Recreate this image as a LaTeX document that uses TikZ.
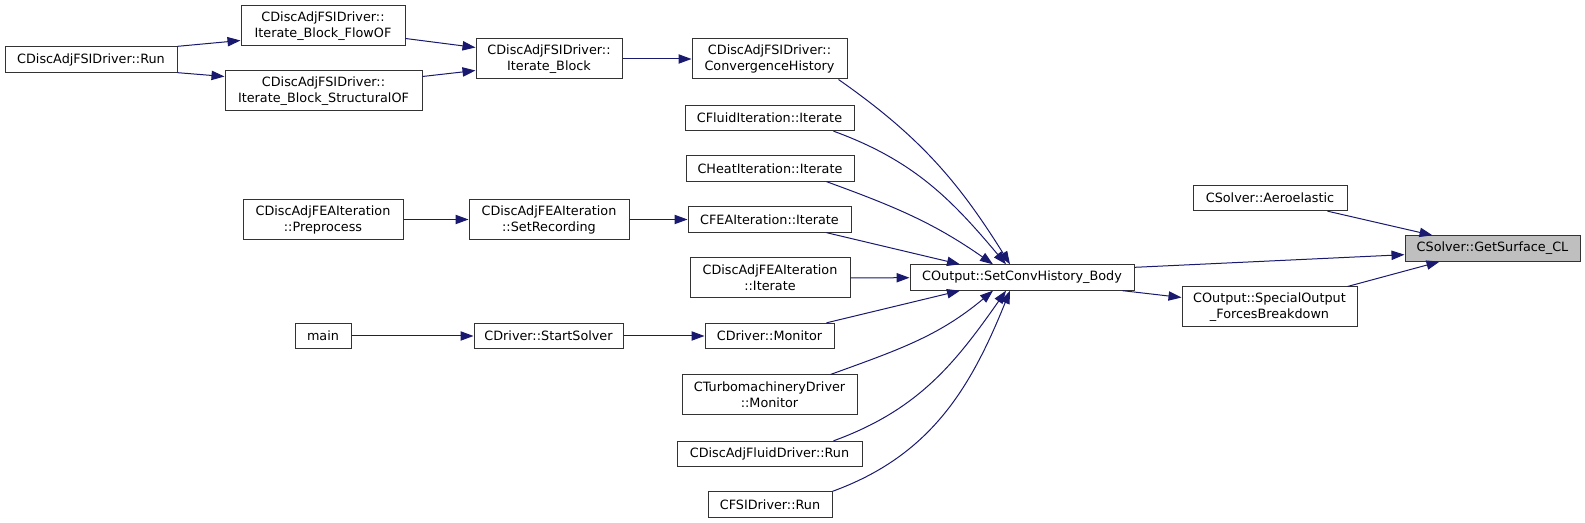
\documentclass[tikz,border=0pt]{standalone}
\usepackage{fontspec}
\setmainfont{DejaVu Sans}
\usetikzlibrary{arrows.meta}
\definecolor{edgeblue}{HTML}{191970}
\definecolor{curgray}{HTML}{BFBFBF}

\begin{document}
\begin{tikzpicture}[x=0.75pt,y=-0.75pt,>={Triangle[length=9.75pt,width=7pt]},
 fn/.style={draw=black!80,line width=0.75pt,fill=white,inner sep=0pt,align=center,
  font=\fontsize{9.6}{12}\selectfont,minimum height=19pt},
 fn2/.style={fn,minimum height=30pt},
 every edge/.style={draw=edgeblue,line width=0.75pt,->}]
\useasboundingbox (0,0) rectangle (1585,523);
\node[fn,minimum width=129pt] (run) at (91,59.5) {CDiscAdjFSIDriver::Run};
\node[fn2,minimum width=123pt] (flowof) at (323,26) {CDiscAdjFSIDriver::\\Iterate\_Block\_FlowOF};
\node[fn2,minimum width=147.75pt] (structof) at (323.5,91) {CDiscAdjFSIDriver::\\Iterate\_Block\_StructuralOF};
\node[fn2,minimum width=109.5pt] (block) at (549,59) {CDiscAdjFSIDriver::\\Iterate\_Block};
\node[fn2,minimum width=116.25pt] (convhist) at (769.5,59) {CDiscAdjFSIDriver::\\ConvergenceHistory};
\node[fn,minimum width=126.75pt] (fluidit) at (769.5,118) {CFluidIteration::Iterate};
\node[fn,minimum width=126pt] (heatit) at (770,168.5) {CHeatIteration::Iterate};
\node[fn,minimum width=122.25pt] (feait) at (769.5,219.5) {CFEAIteration::Iterate};
\node[fn2,minimum width=120pt] (prep) at (323,219.5) {CDiscAdjFEAIteration\\::Preprocess};
\node[fn2,minimum width=120pt] (setrec) at (549,219.5) {CDiscAdjFEAIteration\\::SetRecording};
\node[fn2,minimum width=120pt] (adjfeait) at (770,278) {CDiscAdjFEAIteration\\::Iterate};
\node[fn,minimum width=168pt] (body) at (1022,277.5) {COutput::SetConvHistory\_Body};
\node[fn,minimum width=42pt] (main) at (323,336) {main};
\node[fn,minimum width=111.75pt] (startsolver) at (548.5,336) {CDriver::StartSolver};
\node[fn,minimum width=96.75pt] (monitor) at (769.5,336) {CDriver::Monitor};
\node[fn2,minimum width=131.25pt] (turbomon) at (769.5,395) {CTurbomachineryDriver\\::Monitor};
\node[fn,minimum width=138.75pt] (adjfluidrun) at (769.5,454) {CDiscAdjFluidDriver::Run};
\node[fn,minimum width=93pt] (fsirun) at (770,504.5) {CFSIDriver::Run};
\node[fn,minimum width=115.5pt] (aero) at (1270,198) {CSolver::Aeroelastic};
\node[fn,minimum width=131.25pt,fill=curgray] (getcl) at (1492.5,248.5) {CSolver::GetSurface\_CL};
\node[fn2,minimum width=131.25pt] (special) at (1269.5,307) {COutput::SpecialOutput\\\_ForcesBreakdown};
\path (run.north east) edge ([yshift=4.5pt]flowof.south west)
(run.south east) edge ([yshift=-4.5pt]structof.north west)
([yshift=6pt]flowof.south east) edge ([yshift=-6.75pt]block.north west)
([yshift=-4.5pt]structof.north east) edge ([yshift=6.75pt]block.south west)
(block) edge (convhist)
(prep) edge (setrec)
(setrec) edge (feait)
(main) edge (startsolver)
(startsolver) edge (monitor)
([xshift=-6.75pt]convhist.south east) edge[out=-35,in=122] ([xshift=-9pt]body.north)
([xshift=-15.75pt]fluidit.south east) edge[out=-20,in=130] ([xshift=-12pt]body.north)
([xshift=-21pt]heatit.south east) edge[out=-20,in=145] ([xshift=-21.75pt]body.north)
([xshift=-18.75pt]feait.south east) edge ([xshift=-46.5pt]body.north)
(adjfeait) edge (body)
([xshift=-6pt]monitor.north east) edge ([xshift=-46.5pt]body.south)
([xshift=-20.25pt]turbomon.north east) edge[out=20,in=-140] ([xshift=-21.75pt]body.south)
([xshift=-21.75pt]adjfluidrun.north east) edge[out=20,in=-125] ([xshift=-12pt]body.south)
(fsirun.north east) edge[out=20,in=-112] ([xshift=-9pt]body.south)
([yshift=-2.25pt]body.north east) edge ([yshift=5.25pt]getcl.south west)
([xshift=-9pt]body.south east) edge ([yshift=-8.25pt]special.north west)
([xshift=-15pt]aero.south east) edge ([xshift=21pt]getcl.north west)
([xshift=-7.5pt]special.north east) edge ([xshift=26.25pt]getcl.south west);
\end{tikzpicture}
\end{document}
